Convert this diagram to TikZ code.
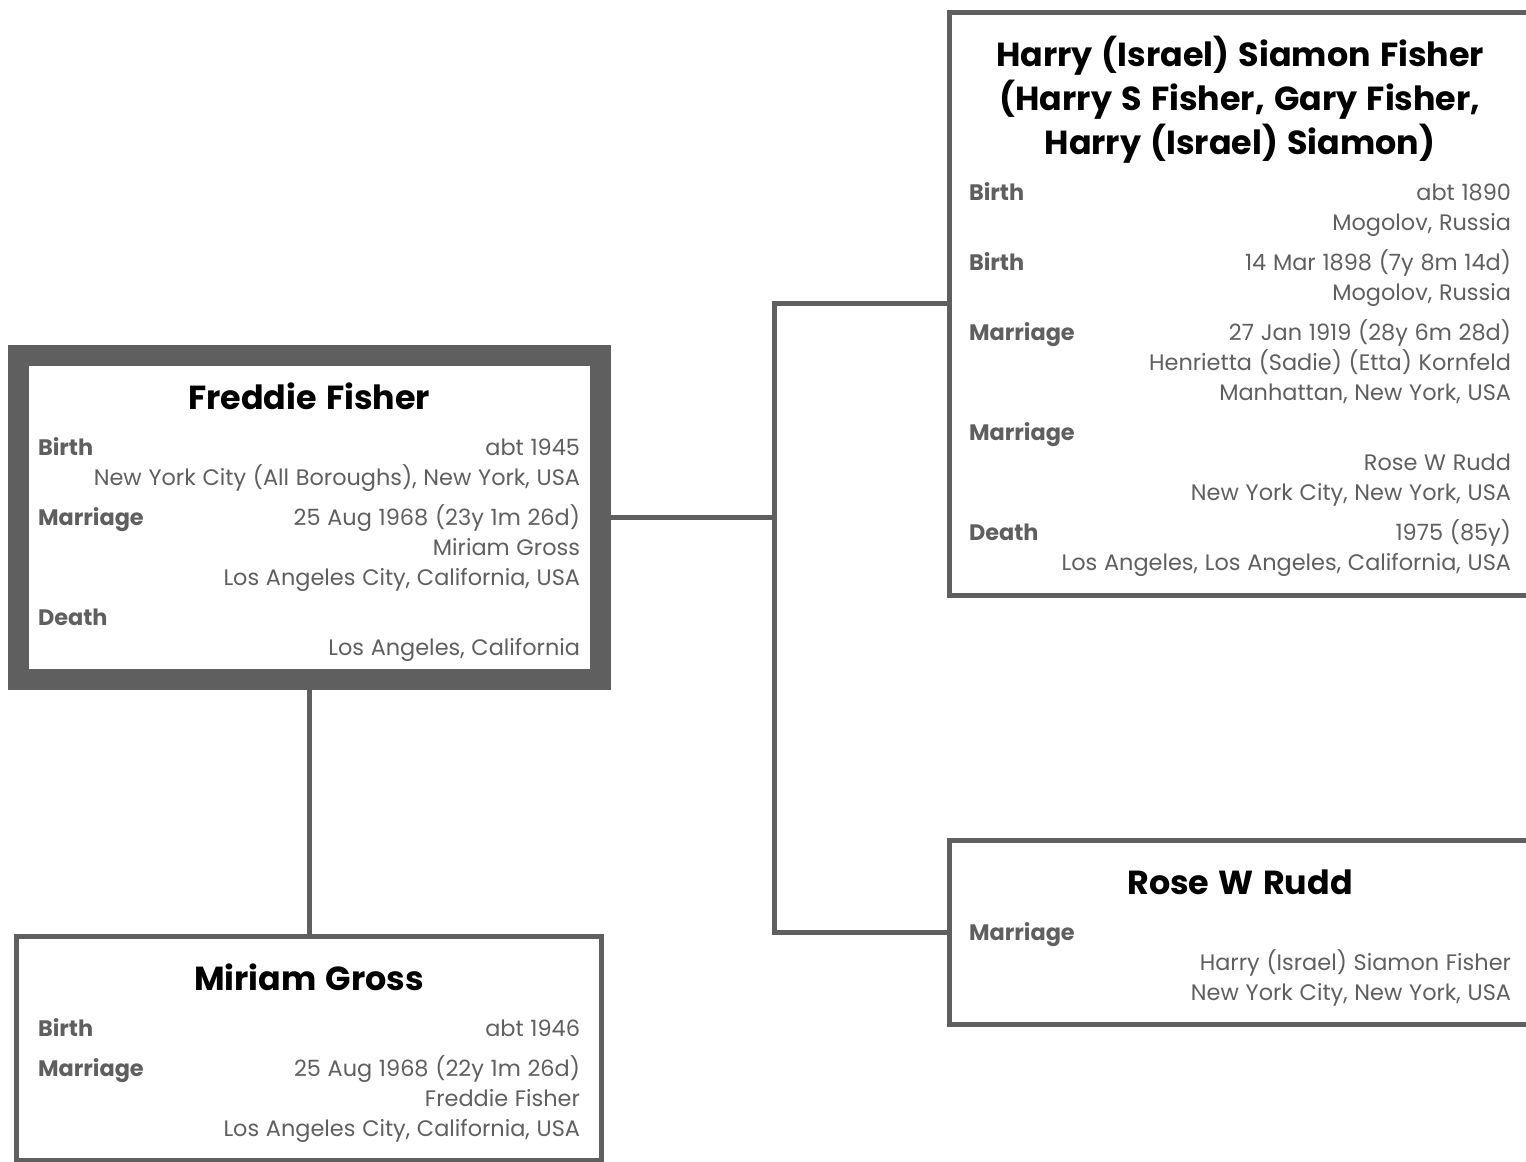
\documentclass[tikz,border=0pt]{standalone}
\usepackage{fontspec}
\setmainfont{Poppins}
\usetikzlibrary{positioning}
\definecolor{famgray}{HTML}{5F5F5F}
\newlength\px
\setlength\px{0.75pt}
\newcommand\titlefont{\fontsize{25}{33}\selectfont\bfseries\color{black}\spaceskip=0.28em}
\newcommand\factfont{\fontsize{16.8}{22.5}\selectfont\color{famgray}\spaceskip=0.3em
  \baselineskip=30\px\lineskiplimit=-\maxdimen}
\newcommand\topstrut{\rule{0pt}{54\px}}
\newcommand\botstrut{\rule[-24\px]{0pt}{24\px}}
\newcommand\headline[1]{\hbox to\linewidth{\hfill{\titlefont#1}\hfill}\par}
\newcommand\fact[2]{\vspace{10\px}\hbox to\linewidth{\textbf{#1}\hfill#2}\par}
\newcommand\more[1]{\hbox to\linewidth{\hfill#1}\par}
\tikzset{person/.style={draw=famgray,line width=5\px,fill=white,anchor=north west,outer sep=0pt,
    inner xsep=20\px,inner ysep=0pt,text width=542\px,execute at begin node={\factfont}}}
\tikzset{root/.style={person,line width=21\px}}
\tikzset{link/.style={draw=famgray,line width=5\px}}

\begin{document}
\begin{tikzpicture}[x=0.75pt,y=-0.75pt]
  \useasboundingbox[fill=white] (0,0) rectangle (1526,1162);
  % the person himself
  \node[root] (freddie) at (18,355.5) {%
    \headline{\topstrut Freddie Fisher}\vspace{6\px}
    \fact{Birth}{abt 1945}
    \more{New York City (All Boroughs), New York, USA}
    \fact{Marriage}{25 Aug 1968 (23y 1m 26d)}
    \more{Miriam Gross}
    \more{Los Angeles City, California, USA}
    \fact{Death}{}
    \more{\botstrut Los Angeles, California}};
  % spouse
  \node[person,inner xsep=21.5\px] (miriam) at (16.5,936.5) {%
    \headline{\topstrut Miriam Gross}\vspace{6\px}
    \fact{Birth}{abt 1946}
    \fact{Marriage}{25 Aug 1968 (22y 1m 26d)}
    \more{Freddie Fisher}
    \more{\botstrut Los Angeles City, California, USA}};
  % parents
  \node[person] (harry) at (949,13) {%
    {\baselineskip=44\px
    \headline{\topstrut Harry (Israel) Siamon Fisher}
    \headline{(Harry S Fisher, Gary Fisher,}
    \headline{Harry (Israel) Siamon)}}\vspace{6\px}
    \fact{Birth}{abt 1890}
    \more{Mogolov, Russia}
    \fact{Birth}{14 Mar 1898 (7y 8m 14d)}
    \more{Mogolov, Russia}
    \fact{Marriage}{27 Jan 1919 (28y 6m 28d)}
    \more{Henrietta (Sadie) (Etta) Kornfeld}
    \more{Manhattan, New York, USA}
    \fact{Marriage}{}
    \more{Rose W Rudd}
    \more{New York City, New York, USA}
    \fact{Death}{1975 (85y)}
    \more{\botstrut Los Angeles, Los Angeles, California, USA}};
  \node[person] (rose) at (949,840.5) {%
    \headline{\topstrut Rose W Rudd}\vspace{6\px}
    \fact{Marriage}{}
    \more{Harry (Israel) Siamon Fisher}
    \more{\botstrut New York City, New York, USA}};
  % connectors
  \draw[link] (freddie.east) -- ++(174,0) coordinate (fork);
  \draw[link] (harry.west) -| (fork) |- (rose.west);
  \draw[link] (freddie.south) -- (miriam.north);
\end{tikzpicture}
\end{document}
